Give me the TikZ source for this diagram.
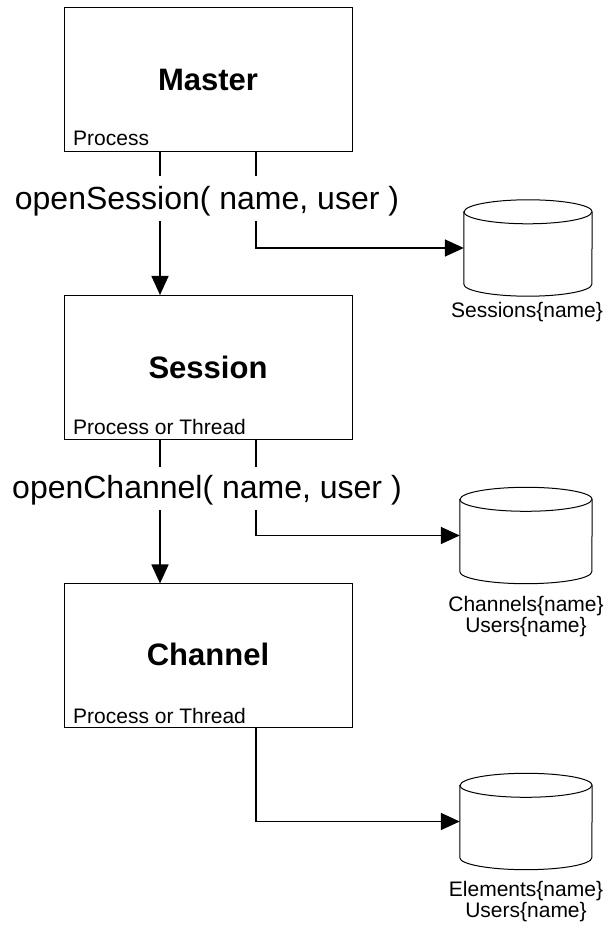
\documentclass[tikz,border=0pt]{standalone}
\usepackage{fontspec}
\setmainfont{Liberation Sans}
\usetikzlibrary{arrows.meta}
\newcommand\drawcyl[2]{%
  \draw[line width=1pt, fill=white] ([yshift=-12pt]#1.north west) -- ([yshift=12pt]#1.south west)
    arc[start angle=180, end angle=360, x radius=#2, y radius=12pt]
    -- ([yshift=-12pt]#1.north east)
    arc[start angle=0, end angle=180, x radius=#2, y radius=12pt] -- cycle;
  \draw[line width=1pt] ([yshift=-12pt]#1.north west)
    arc[start angle=180, end angle=360, x radius=#2, y radius=12pt];}
\begin{document}
\begin{tikzpicture}[x=1pt,y=1pt,
  box/.style={draw, line width=1pt, minimum width=288pt, minimum height=144pt, inner sep=0pt},
  title/.style={font=\fontsize{31}{36}\selectfont\bfseries, anchor=base, inner sep=0pt},
  kind/.style={font=\fontsize{21}{25}\selectfont, anchor=base west, inner sep=0pt},
  call/.style={font=\fontsize{32}{38}\selectfont, anchor=base, inner sep=0pt},
  conn/.style={line width=1.6pt},
  arr/.style={conn, -{Triangle[length=19pt, width=17pt]}},
  dbbox/.style={minimum height=96pt, inner sep=0pt},
  dblabel/.style={font=\fontsize{21}{21}\selectfont, align=center, anchor=north, inner sep=0pt}
]
\useasboundingbox (0,0) rectangle (610,930);

% boxes
\node[box] (master) at (208,850.5) {};
\node[box] (session) at (208,562.5) {};
\node[box] (channel) at (208,274) {};
\node[title] (mastert) at (208,839) {Master};
\node[title] (sessiont) at (208,551) {Session};
\node[title] (channelt) at (208,264) {Channel};
\node[kind] (masterk) at (73,784) {Process};
\node[kind] (sessionk) at (73,495.5) {Process or Thread};
\node[kind] (channelk) at (73,206.5) {Process or Thread};

% call labels
\node[call, text height=34pt, text depth=11pt] (lab1) at (207,720) {openSession( name, user )};
\node[call, text height=32pt, text depth=11pt] (lab2) at (207,431) {openChannel( name, user )};

% x positions of connectors
\coordinate (xa) at (160,0);
\coordinate (xb) at (256,0);

% databases
\node[dbbox, minimum width=128pt] (db1) at (528,682) {};
\node[dbbox, minimum width=132pt] (db2) at (526,394.5) {};
\node[dbbox, minimum width=132pt] (db3) at (526,108.5) {};
\drawcyl{db1}{64pt}
\drawcyl{db2}{66pt}
\drawcyl{db3}{66pt}
\node[dblabel] (db1l) at (527,628) {Sessions\{name\}};
\node[dblabel] (db2l) at (526,334) {Channels\{name\}\\Users\{name\}};
\node[dblabel] (db3l) at (526,48.5) {Elements\{name\}\\Users\{name\}};

% connectors
\draw[conn] (master.south -| xa) -- (lab1.north -| xa);
\draw[arr] (lab1.south -| xa) -- (session.north -| xa);
\draw[conn] (master.south -| xb) -- (lab1.north -| xb);
\draw[arr] (lab1.south -| xb) |- (db1.west);

\draw[conn] (session.south -| xa) -- (lab2.north -| xa);
\draw[arr] (lab2.south -| xa) -- (channel.north -| xa);
\draw[conn] (session.south -| xb) -- (lab2.north -| xb);
\draw[arr] (lab2.south -| xb) |- (db2.west);

\draw[arr] (channel.south -| xb) |- (db3.west);
\end{tikzpicture}
\end{document}
